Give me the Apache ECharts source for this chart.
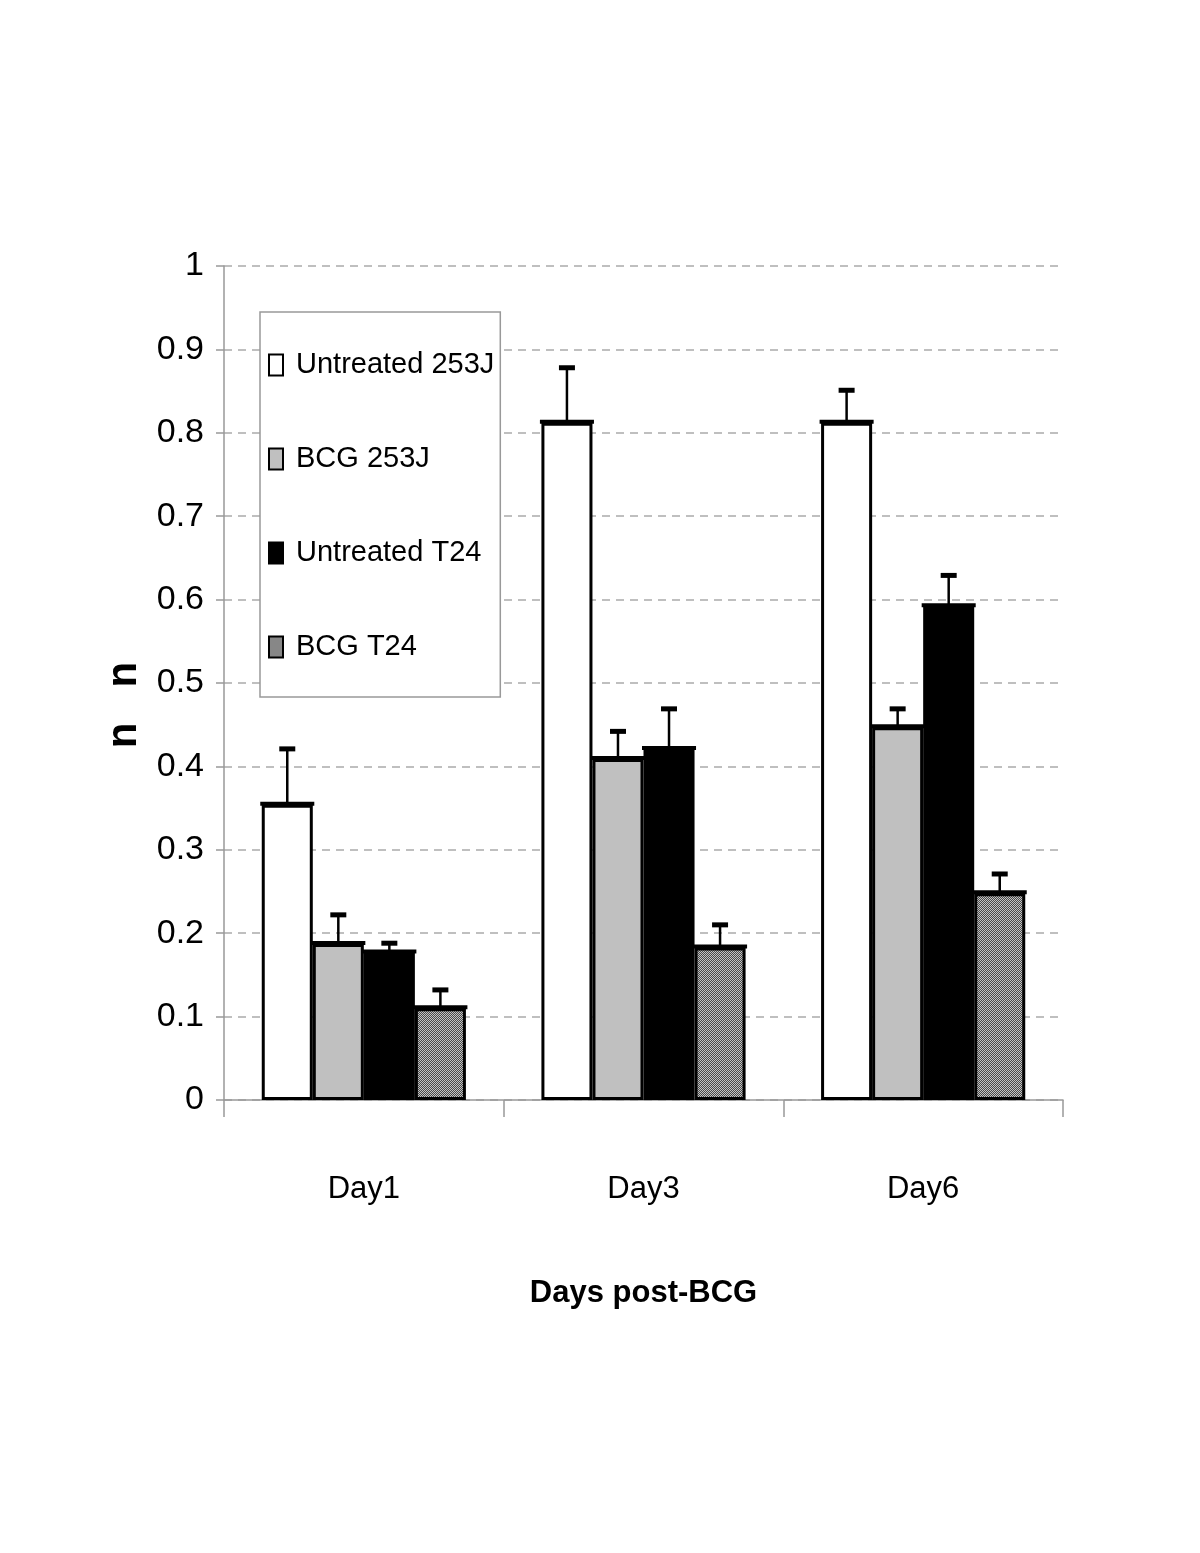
<!DOCTYPE html>
<html><head><meta charset="utf-8">
<script src="https://cdn.jsdelivr.net/npm/echarts@6/dist/echarts.min.js"></script>
<style>html,body{margin:0;background:#fff}#c{width:1200px;height:1553px}</style>
</head><body><div id="c"></div>
<script>
const categories = ['Day1', 'Day3', 'Day6'];
const seriesNames = ['Untreated 253J', 'BCG 253J', 'Untreated T24', 'BCG T24'];
const untreated253J = [0.354, 0.812, 0.812];
const bcg253J = [0.187, 0.409, 0.447];
const untreatedT24 = [0.177, 0.421, 0.592];
const bcgT24 = [0.110, 0.183, 0.248];
const untreated253JErr = [0.067, 0.066, 0.039];
const bcg253JErr = [0.035, 0.033, 0.022];
const untreatedT24Err = [0.011, 0.048, 0.037];
const bcgT24Err = [0.022, 0.027, 0.023];
const yTicks = [0, 0.1, 0.2, 0.3, 0.4, 0.5, 0.6, 0.7, 0.8, 0.9, 1];

const FONT = "'Liberation Sans Narrow', 'Liberation Sans', Arial, sans-serif";
const values = [untreated253J, bcg253J, untreatedT24, bcgT24];
const errs = [untreated253JErr, bcg253JErr, untreatedT24Err, bcgT24Err];

const pc = document.createElement('canvas');
pc.width = 4; pc.height = 4;
const pctx = pc.getContext('2d');
for (let y = 0; y < 4; y++) for (let x = 0; x < 4; x++) {
  pctx.fillStyle = ((x + y) % 2) ? '#4a4a4a' : '#c4c4c4';
  pctx.fillRect(x, y, 1, 1);
}
const fills = ['#ffffff', '#c0c0c0', '#000000', {image: pc, repeat: 'repeat'}];
const GAP = 0.27;

const barSeries = seriesNames.map((n, s) => ({
  name: n, type: 'bar', data: values[s],
  barGap: '0%', barCategoryGap: (GAP * 100) + '%',
  itemStyle: {color: fills[s], borderColor: '#000', borderWidth: 3},
  emphasis: {disabled: true}, z: 2
}));

const errSeries = seriesNames.map((n, s) => ({
  type: 'custom', name: 'err' + s, z: 5,
  data: categories.map((c, i) => [i, values[s][i], errs[s][i]]),
  renderItem: function (params, api) {
    const ci = api.value(0), v = api.value(1), e = api.value(2);
    const base = api.coord([ci, v]);
    const top = api.coord([ci, v + e]);
    const band = api.size([1, 0])[0];
    const group = band * (1 - GAP);
    const bw = group / 4;
    const x = base[0] - group / 2 + bw * (s + 0.5);
    const st = {stroke: '#000', lineCap: 'butt'};
    return {type: 'group', children: [
      {type: 'line', shape: {x1: x - bw / 2 - 1.5, y1: base[1] - 1, x2: x + bw / 2 + 1.5, y2: base[1] - 1}, style: Object.assign({lineWidth: 4}, st)},
      {type: 'line', shape: {x1: x, y1: base[1], x2: x, y2: top[1]}, style: Object.assign({lineWidth: 2.5}, st)},
      {type: 'line', shape: {x1: x - 8, y1: top[1], x2: x + 8, y2: top[1]}, style: Object.assign({lineWidth: 5, lineCap: 'round'}, st)}
    ]};
  }
}));

const chart = echarts.init(document.getElementById('c'), null, {renderer: 'canvas'});
chart.setOption({
  backgroundColor: '#fff',
  animation: false,
  textStyle: {fontFamily: FONT},
  grid: {left: 224, right: 137, top: 266, bottom: 453},
  legend: {
    data: seriesNames, orient: 'vertical', left: 260, top: 312,
    icon: 'rect',
    padding: [33, 6, 30, 8], itemGap: 54, itemWidth: 14, itemHeight: 21,
    backgroundColor: '#fff', borderColor: '#999', borderWidth: 1.5,
    textStyle: {fontFamily: FONT, fontSize: 29, color: '#000', lineHeight: 40, padding: [0, 0, 0, 8]},
    selectedMode: false
  },
  xAxis: {
    type: 'category', data: categories,
    axisLine: {lineStyle: {color: '#999', width: 1.5}},
    axisTick: {show: true, length: 17, lineStyle: {color: '#999', width: 1.5}},
    axisLabel: {fontFamily: FONT, fontSize: 31, color: '#000', margin: 74},
    name: 'Days post-BCG', nameLocation: 'middle', nameGap: 178,
    nameTextStyle: {fontFamily: FONT, fontSize: 31, fontWeight: 'bold', color: '#000'}
  },
  yAxis: {
    type: 'value', min: 0, max: 1, interval: 0.1,
    axisLine: {show: true, lineStyle: {color: '#999', width: 1.5}},
    axisTick: {show: true, length: 8, lineStyle: {color: '#999', width: 1.5}},
    splitLine: {show: true, lineStyle: {color: '#aaa', type: [8, 6], width: 1.5}},
    axisLabel: {fontFamily: FONT, fontSize: 34, color: '#000', margin: 20,
      formatter: v => String(Math.round(v * 10) / 10)},
    name: 'n   n', nameLocation: 'middle', nameGap: 63, nameRotate: 90,
    nameTextStyle: {fontFamily: FONT, fontSize: 42, fontWeight: 'bold', color: '#000', padding: [0, 44, 0, 0]}
  },
  series: barSeries.concat(errSeries)
});
</script>
</body></html>
